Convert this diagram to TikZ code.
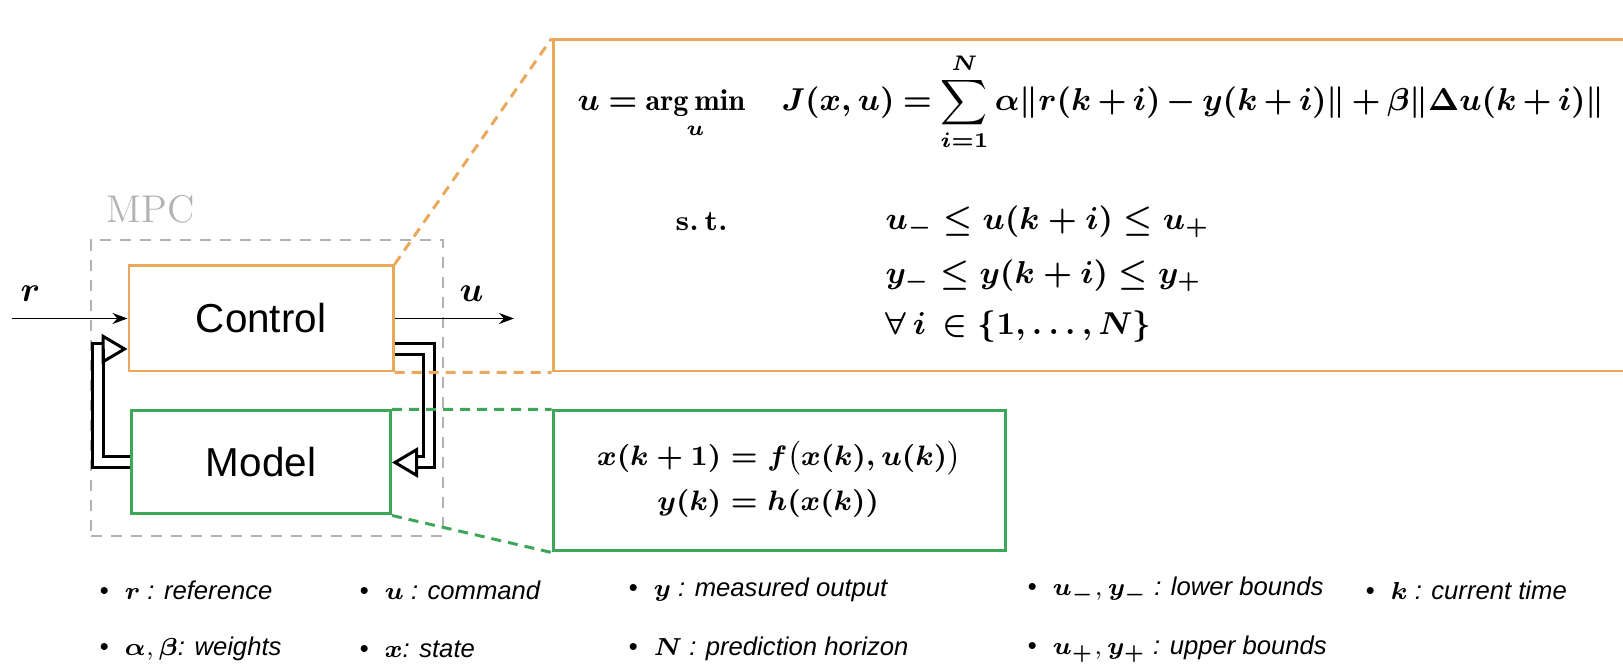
\documentclass[tikz,border=0pt]{standalone}
\usepackage{amsmath}
\usepackage{bm}
\usepackage{fontspec}
\setsansfont{Liberation Sans}
\usetikzlibrary{arrows.meta,positioning}
\definecolor{ctrlorange}{RGB}{234,168,92}
\definecolor{modelgreen}{RGB}{62,166,88}
\definecolor{mpcgray}{RGB}{178,178,178}
\tikzset{
    blockctrl/.style={rectangle,draw=ctrlorange,line width=0.85pt,minimum width=2.64cm,minimum height=1.05cm,font=\sffamily\fontsize{11.5}{13}\selectfont},
    blockmodel/.style={rectangle,draw=modelgreen,line width=0.85pt,minimum width=2.59cm,minimum height=1.03cm,font=\sffamily\fontsize{11.5}{13}\selectfont},
    mpcframe/.style={rectangle,draw=mpcgray,dash pattern=on 0.11cm off 0.09cm,line width=0.55pt,minimum width=3.52cm,minimum height=2.96cm},
    mpclabel/.style={text=mpcgray,font=\fontsize{11}{13}\selectfont,inner sep=0pt},
    eqbox/.style={rectangle,draw,line width=0.85pt},
    eqtext/.style={font=\boldmath\fontsize{9.2}{11}\selectfont,inner sep=0pt},
    zoomline/.style={dash pattern=on 0.1cm off 0.07cm,line width=0.85pt},
    sigline/.style={-{Stealth[length=1.5mm,width=1.1mm]},line width=0.45pt},
    sigtext/.style={font=\fontsize{10}{12}\selectfont,inner sep=0pt},
    feedline/.style={double,double distance=0.08cm,line width=0.03cm,-{Triangle[open,length=2.6mm,width=3mm]},line join=miter},
    legendtxt/.style={anchor=west,inner sep=0pt,font=\sffamily\itshape\fontsize{7.3}{9}\selectfont}
}
\begin{document}
\begin{tikzpicture}
    \useasboundingbox (0,0) rectangle (16.23,6.67);
    % MPC block
    \node[mpcframe] (mpc) at (2.67,2.79) {};
    \node[mpclabel,above right=0.15cm and 0.16cm of mpc.north west] (mpcname) {MPC};
    \node[blockctrl] (control) at (2.61,3.485) {Control};
    \node[blockmodel,below=0.37cm of control] (model) {Model};
    \coordinate (rin) at (0.12,3.485);
    \coordinate (uout) at (5.14,3.485);
    \draw[sigline] (rin) -- node[sigtext,above=1.6mm,pos=0.16]{$\bm{r}$} (control);
    \draw[sigline] (control) -- node[sigtext,above=1.6mm,pos=0.645]{$\bm{u}$} (uout);
    \draw[feedline] ([yshift=-3.05mm]control.east) -- ++(0.34,0) |- (model.east);
    \draw[feedline] (model.west) -- ++(-0.32,0) |- ([yshift=-3.05mm]control.west);
    % optimisation problem
    \node[eqbox,draw=ctrlorange,minimum width=11cm,minimum height=3.31cm] (ctrlbox) at (11.03,4.615) {};
    \node[eqtext,font=\boldmath\fontsize{8.6}{10}\selectfont,anchor=west] (cost) at (5.77,5.65) {\medmuskip=3mu \thickmuskip=4mu $\displaystyle u = \operatorname*{arg\,min}_{u}\quad J(x,u) = \sum_{i=1}^{N}\alpha\lVert r(k+i)-y(k+i)\rVert+\beta\lVert\Delta u(k+i)\rVert$};
    \node[eqtext,font=\boldmath\fontsize{8}{10}\selectfont,anchor=west] (st) at (6.75,4.45) {$\mathbf{s.\,t.}$};
    \node[eqtext,anchor=west] (ubound) at (8.85,4.45) {$u_{-}\leq u(k+i)\leq u_{+}$};
    \node[eqtext,below=0.54cm of ubound.west,anchor=west] (ybound) {$y_{-}\leq y(k+i)\leq y_{+}$};
    \node[eqtext,below=0.51cm of ybound.west,anchor=west] (horizon) {$\forall\, i\,\in\{1,\dots,N\}$};
    % prediction model
    \node[eqbox,draw=modelgreen,minimum width=4.52cm,minimum height=1.40cm,below=0.37cm of ctrlbox.south west,anchor=north west,font=\boldmath\fontsize{8.5}{10}\selectfont] (modelbox) {$\begin{aligned}x(k+1)&=f\bigl(x(k),u(k)\bigr)\\ y(k)&=h(x(k))\end{aligned}$};
    \draw[zoomline,draw=ctrlorange] (control.north east) -- (ctrlbox.north west);
    \draw[zoomline,draw=ctrlorange] (control.south east) -- (ctrlbox.south west);
    \draw[zoomline,draw=modelgreen] (model.north east) -- (modelbox.north west);
    \draw[zoomline,draw=modelgreen] (model.south east) -- (modelbox.south west);
    % legend
    \node[legendtxt] (lref) at (0.99,0.77) {\textbullet\hspace{4.5pt}$\bm{r}$ : reference};
    \node[legendtxt] (lcmd) at (3.59,0.77) {\textbullet\hspace{4.5pt}$\bm{u}$ : command};
    \node[legendtxt] (lout) at (6.28,0.77) {\textbullet\hspace{4.5pt}$\bm{y}$ : measured output};
    \node[legendtxt] (llow) at (10.27,0.77) {\textbullet\hspace{4.5pt}$\bm{u_{-}},\bm{y_{-}}$ : lower bounds};
    \node[legendtxt] (ltime) at (13.65,0.77) {\textbullet\hspace{4.5pt}$\bm{k}$ : current time};
    \node[legendtxt] (lweight) at (0.99,0.18) {\textbullet\hspace{4.5pt}$\bm{\alpha},\bm{\beta}$: weights};
    \node[legendtxt] (lstate) at (3.59,0.18) {\textbullet\hspace{4.5pt}$\bm{x}$: state};
    \node[legendtxt] (lhoriz) at (6.28,0.18) {\textbullet\hspace{4.5pt}$\bm{N}$ : prediction horizon};
    \node[legendtxt] (lup) at (10.27,0.18) {\textbullet\hspace{4.5pt}$\bm{u_{+}},\bm{y_{+}}$ : upper bounds};
\end{tikzpicture}
\end{document}
